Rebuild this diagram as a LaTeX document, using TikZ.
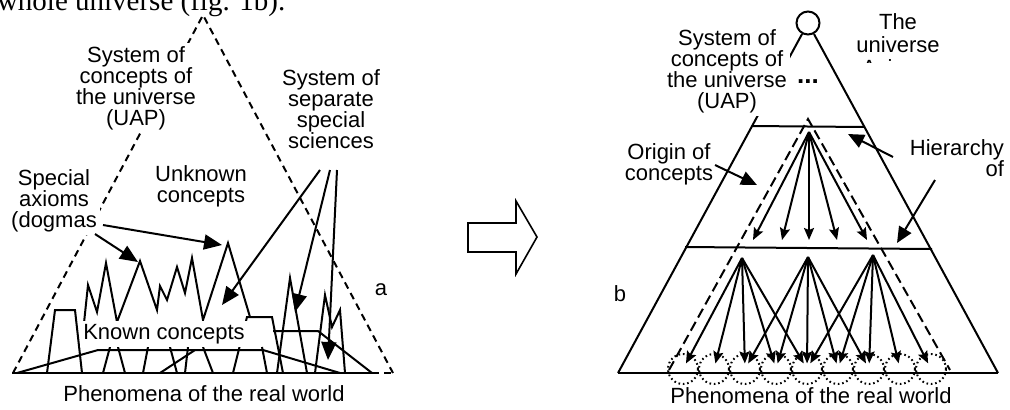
\documentclass[tikz,border=0pt]{standalone}
\usepackage{fontspec}
\setmainfont{Liberation Sans}
\newfontfamily\serifface{Liberation Serif}
\usetikzlibrary{arrows.meta,calc,positioning}

\begin{document}
\begin{tikzpicture}[x=0.5pt,y=-0.5pt,line width=1pt,
  lbl/.style={font=\fontsize{11pt}{10.5pt}\selectfont,align=center,inner sep=1.5pt},
  mask/.style={lbl,fill=white},
  adash/.style={dash pattern=on 3.5pt off 2.5pt},
  bdash/.style={dash pattern=on 5pt off 2.5pt},
  bigarr/.style={-{Triangle[length=9pt,width=7.5pt]}},
  midarr/.style={-{Triangle[length=8pt,width=7pt]}},
  fanarr/.style={-{Stealth[length=6pt,width=5pt,inset=1pt]}},
  dotc/.style={circle,draw,dash pattern=on 0.8pt off 1.4pt,minimum size=15pt,inner sep=0pt}]
  \useasboundingbox (0,0) rectangle (1010,409);

  % end of the text line above the figure
  \node[font=\serifface\fontsize{14.5pt}{16pt}\selectfont,anchor=base west,inner sep=0pt]
    (caption) at (-4,10) {whole universe (fig. 1b).};

  % ---------- (a) ----------
  \coordinate (aT) at (203,15);
  \coordinate (aL) at (13,373);
  \coordinate (aR) at (393,373);
  \draw[adash] (aL) -- (aT) -- (aR);
  \draw (12,373) -- (372,373);
  \draw[adash] (372,373) -- (aR);
  % known concepts
  \draw (17,373) -- (98,350) -- (263,350) -- (340,373);
  \draw (47,373) -- (55,310) -- (75,310) -- (82,373);
  \draw (233,373) -- (247,317) -- (272,317) -- (283,373);
  \draw (273,331) -- (318,331) -- (372,373);
  % peaks of unknown concepts
  \draw (84,323) -- (88,285) -- (97,312) -- (106,263) -- (117,322) -- (140,261)
    -- (157,310) -- (160,286) -- (167,300) -- (177,267) -- (185,293) -- (192,258)
    -- (203,320) -- (228,243) -- (250,317);
  \foreach \xa/\xb in {110/103,118/125,148/143,170/177,188/185,203/213,262/267}
    \draw (\xa,347) -- (\xb,373);
  \draw (160,373) -- (195,350);
  \draw (277,373) -- (290,278) -- (307,373);
  \draw (315,373) -- (325,295) -- (332,327) -- (340,310) -- (345,373);

  \node[mask] (univA) at (136,88) {System of\\concepts of\\the universe\\(UAP)};
  \node[mask] (axioms) at (54,201) {Special\\axioms\\(dogmas};
  \node[lbl] (unknown) at (201,186) {Unknown\\concepts};
  \node[lbl] (sciences) at (331,109) {System of\\separate\\special\\sciences};
  \node[mask] (known) at (164,334) {Known concepts};
  \node[lbl] (phenA) at (204,394) {Phenomena of the real world};
  \node[lbl] (labA) at (381,290) {a};

  \coordinate (ax1) at (95,234);
  \coordinate (ax2) at (103,225);
  \coordinate (pk1) at (138,262);
  \coordinate (pk2) at (222,245);
  \draw[bigarr] (ax1) -- (pk1);
  \draw[bigarr] (ax2) -- (pk2);
  \coordinate (sc1) at (320,170);
  \coordinate (sc2) at (330,170);
  \coordinate (sc3) at (337,170);
  \coordinate (kn1) at (222,305);
  \coordinate (kn2) at (295,312);
  \coordinate (kn3) at (328,360);
  \draw[bigarr] (sc1) -- (kn1);
  \draw[bigarr] (sc2) -- (kn2);
  \draw[bigarr] (sc3) -- (kn3);

  % passage arrow
  \draw[line width=0.8pt] (468,223) -- (516,223) -- (516,201) -- (537,237)
    -- (516,274) -- (516,252) -- (468,252) -- cycle;

  % ---------- (b) ----------
  \node[circle,draw,minimum size=11.5pt,inner sep=0pt] (axiom) at (808,23) {};
  \coordinate (bL) at (618,373);
  \coordinate (bR) at (998,373);
  \draw (bL) -- (axiom) -- (bR);
  \draw (bL) -- (bR);
  \draw (752,126) -- (865,127);
  \draw (685,247) -- (932,249);
  \coordinate (dA) at (808,119);
  \draw[bdash] (669,370) -- (dA) -- (950,370);

  % upper fan
  \coordinate (ufan) at (809,132);
  \foreach \x [count=\n] in {753,782,809,837,867}
    \coordinate (ut\n) at (\x,240);
  \foreach \n in {1,...,5}
    \draw[fanarr] (ufan) -- (ut\n);

  % lower fans
  \foreach \x [count=\i from 0] in {683,714,...,931}
    \node[dotc] (c\i) at (\x,369) {};
  \coordinate (o1) at (742,258);
  \coordinate (o2) at (808,257);
  \coordinate (o3) at (873,255);
  \foreach \k/\a/\b in {1/0/4,2/2/6,3/4/8}
    \foreach \i in {\a,...,\b}
      \draw[fanarr] (o\k) -- ($(c\i.center)!0.05!(o\k)$);

  \node[mask] (univB) at (727,71) {System of\\concepts of\\the universe\\(UAP)};
  \node[lbl,font=\bfseries\fontsize{13pt}{13pt}\selectfont] (dots) at (808,82) {...};
  \begin{scope}
    \clip (840,0) rectangle (960,62);
    \node[lbl,font=\fontsize{11pt}{11.5pt}\selectfont] (universe) at (898,45) {The\\universe\\Axioms};
  \end{scope}
  \node[lbl] (origin) at (669,164) {Origin of\\concepts};
  \node[lbl,align=right,anchor=east] (hier) at (1008,158) {Hierarchy\\of};
  \node[lbl] (labB) at (620,294) {b};
  \node[lbl] (phenB) at (811,396) {Phenomena of the real world};

  \coordinate (or1) at (715,165);
  \coordinate (or2) at (757,185);
  \draw[midarr] (or1) -- (or2);
  \coordinate (hi1) at (893,157);
  \coordinate (hi2) at (848,134);
  \coordinate (hi3) at (935,180);
  \coordinate (hi4) at (897,243);
  \draw[midarr] (hi1) -- (hi2);
  \draw[midarr] (hi3) -- (hi4);
\end{tikzpicture}
\end{document}
